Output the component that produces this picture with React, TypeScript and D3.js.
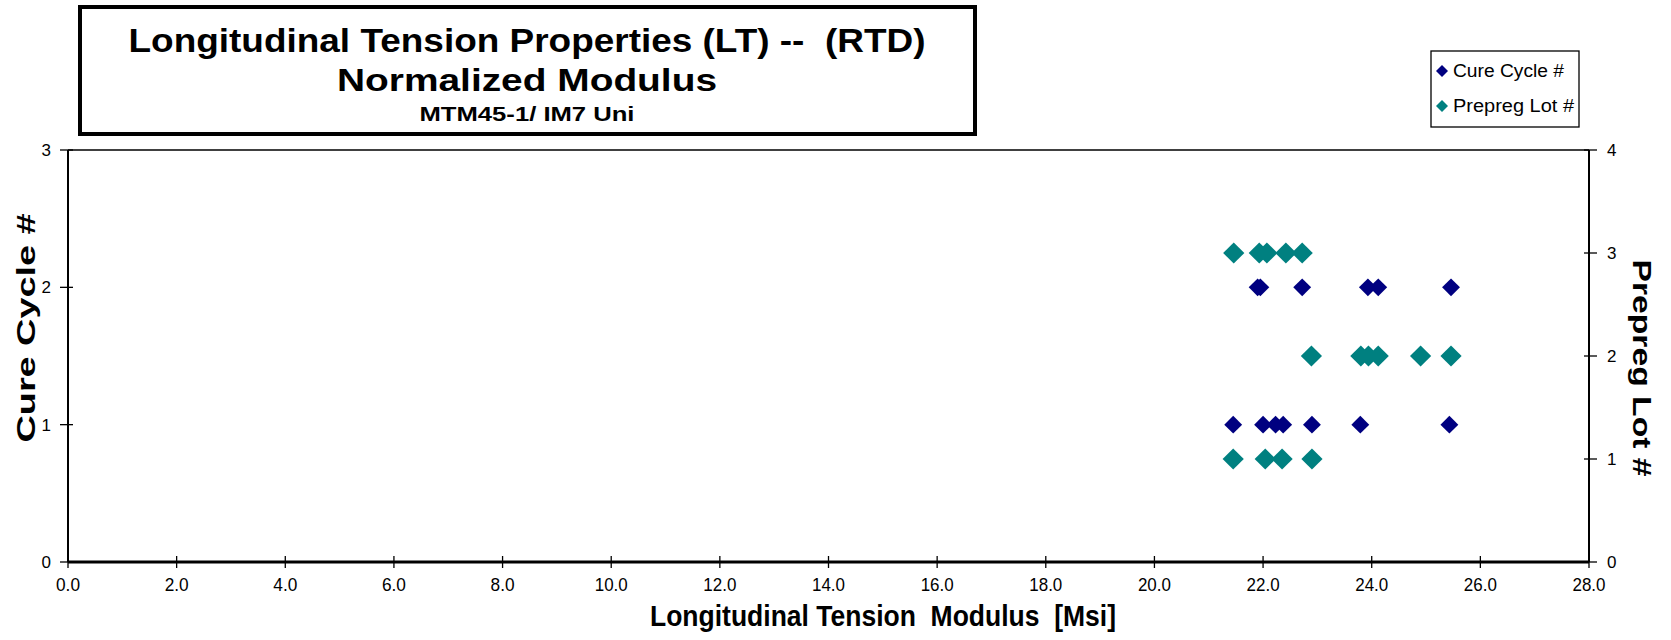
import { useEffect, useRef } from 'react';
import * as d3 from 'd3';

// Modulus values [Msi], grouped by row
const cureCycle1 = [21.45, 22.0, 22.23, 22.37, 22.9, 23.79, 25.43];
const cureCycle2 = [21.9, 21.95, 22.72, 23.93, 24.12, 25.46];
const prepregLot1 = [21.45, 22.04, 22.35, 22.9];
const prepregLot2 = [22.89, 23.8, 23.94, 24.12, 24.9, 25.46];
const prepregLot3 = [21.46, 21.93, 22.07, 22.42, 22.72];

const xTicks = [0, 2, 4, 6, 8, 10, 12, 14, 16, 18, 20, 22, 24, 26, 28];
const leftTicks = [0, 1, 2, 3];
const rightTicks = [0, 1, 2, 3, 4];

const titleLines = [
  'Longitudinal Tension Properties (LT) --  (RTD)',
  'Normalized Modulus',
  'MTM45-1/ IM7 Uni',
];
const xLabel = 'Longitudinal Tension  Modulus  [Msi]';
const leftLabel = 'Cure Cycle #';
const rightLabel = 'Prepreg Lot #';
const legendNames = ['Cure Cycle #', 'Prepreg Lot #'];

const NAVY = '#000080';
const TEAL = '#008080';
const NARROW = '"Liberation Sans Narrow", "Arial Narrow", "Liberation Sans", Arial, sans-serif';
const SANS = '"Liberation Sans", Arial, sans-serif';

export default function App() {
  const svgRef = useRef<SVGSVGElement | null>(null);

  useEffect(() => {
    if (!svgRef.current) return;
    const svg = d3.select(svgRef.current);
    svg.selectAll('*').remove();

    // plot area
    const left = 68, right = 1589, top = 150, bottom = 562;

    const x = d3.scaleLinear().domain([0, 28]).range([left, right]);
    const yL = d3.scaleLinear().domain([0, 3]).range([bottom, top]);
    const yR = d3.scaleLinear().domain([0, 4]).range([bottom, top]);

    // title box
    svg.append('rect')
      .attr('x', 80).attr('y', 7)
      .attr('width', 895).attr('height', 127)
      .attr('fill', 'white')
      .attr('stroke', 'black')
      .attr('stroke-width', 4);

    const titleSpecs = [
      { y: 52, size: 33, len: 797 },
      { y: 91, size: 32, len: 380 },
      { y: 121, size: 21, len: 215 },
    ];
    titleLines.forEach((t, i) => {
      svg.append('text')
        .attr('x', 527)
        .attr('y', titleSpecs[i].y)
        .attr('text-anchor', 'middle')
        .attr('font-family', NARROW)
        .attr('font-weight', 'bold')
        .attr('font-size', titleSpecs[i].size)
        .attr('textLength', titleSpecs[i].len)
        .attr('lengthAdjust', 'spacingAndGlyphs')
        .style('white-space', 'pre')
        .text(t);
    });

    // frame
    svg.append('line')
      .attr('x1', left).attr('x2', right)
      .attr('y1', top).attr('y2', top)
      .attr('stroke', 'black').attr('stroke-width', 1.5);
    svg.append('line')
      .attr('x1', left).attr('x2', left)
      .attr('y1', top).attr('y2', bottom)
      .attr('stroke', 'black').attr('stroke-width', 2);
    svg.append('line')
      .attr('x1', right).attr('x2', right)
      .attr('y1', top).attr('y2', bottom)
      .attr('stroke', 'black').attr('stroke-width', 2);
    svg.append('line')
      .attr('x1', left).attr('x2', right)
      .attr('y1', bottom).attr('y2', bottom)
      .attr('stroke', 'black').attr('stroke-width', 3);

    // x axis ticks and labels
    const xg = svg.append('g');
    xg.selectAll('line')
      .data(xTicks)
      .enter()
      .append('line')
      .attr('x1', d => x(d)).attr('x2', d => x(d))
      .attr('y1', bottom - 6).attr('y2', bottom + 6)
      .attr('stroke', 'black').attr('stroke-width', 1.3);
    xg.selectAll('text')
      .data(xTicks)
      .enter()
      .append('text')
      .attr('x', d => x(d))
      .attr('y', 591)
      .attr('text-anchor', 'middle')
      .attr('font-family', NARROW)
      .attr('font-size', 19)
      .attr('textLength', d => (d >= 10 ? 33 : 24))
      .attr('lengthAdjust', 'spacingAndGlyphs')
      .text(d => d.toFixed(1));

    // left axis
    const lg = svg.append('g');
    lg.selectAll('line')
      .data(leftTicks)
      .enter()
      .append('line')
      .attr('x1', left - 8).attr('x2', left + 5)
      .attr('y1', d => yL(d)).attr('y2', d => yL(d))
      .attr('stroke', 'black').attr('stroke-width', 1.3);
    lg.selectAll('text')
      .data(leftTicks)
      .enter()
      .append('text')
      .attr('x', 51)
      .attr('y', d => yL(d))
      .attr('dy', '0.36em')
      .attr('text-anchor', 'end')
      .attr('font-family', SANS)
      .attr('font-size', 17)
      .text(d => String(d));

    // right axis
    const rg = svg.append('g');
    rg.selectAll('line')
      .data(rightTicks)
      .enter()
      .append('line')
      .attr('x1', right - 5).attr('x2', right + 8)
      .attr('y1', d => yR(d)).attr('y2', d => yR(d))
      .attr('stroke', 'black').attr('stroke-width', 1.3);
    rg.selectAll('text')
      .data(rightTicks)
      .enter()
      .append('text')
      .attr('x', 1607)
      .attr('y', d => yR(d))
      .attr('dy', '0.36em')
      .attr('text-anchor', 'start')
      .attr('font-family', SANS)
      .attr('font-size', 17)
      .text(d => String(d));

    // axis titles
    svg.append('text')
      .attr('x', 883)
      .attr('y', 626)
      .attr('text-anchor', 'middle')
      .attr('font-family', NARROW)
      .attr('font-weight', 'bold')
      .attr('font-size', 29)
      .attr('textLength', 466)
      .attr('lengthAdjust', 'spacingAndGlyphs')
      .style('white-space', 'pre')
      .text(xLabel);

    svg.append('text')
      .attr('transform', 'translate(35,328) rotate(-90)')
      .attr('text-anchor', 'middle')
      .attr('font-family', SANS)
      .attr('font-weight', 'bold')
      .attr('font-size', 25)
      .attr('textLength', 229)
      .attr('lengthAdjust', 'spacingAndGlyphs')
      .text(leftLabel);

    svg.append('text')
      .attr('transform', 'translate(1633,368) rotate(90)')
      .attr('text-anchor', 'middle')
      .attr('font-family', SANS)
      .attr('font-weight', 'bold')
      .attr('font-size', 25)
      .attr('textLength', 217)
      .attr('lengthAdjust', 'spacingAndGlyphs')
      .text(rightLabel);

    // markers: squares rotated 45 degrees
    const navySym = d3.symbol(d3.symbolSquare, 160)();
    const tealSym = d3.symbol(d3.symbolSquare, 225)();

    const curePts = [
      ...cureCycle1.map(v => ({ x: v, y: 1 })),
      ...cureCycle2.map(v => ({ x: v, y: 2 })),
    ];
    const lotPts = [
      ...prepregLot1.map(v => ({ x: v, y: 1 })),
      ...prepregLot2.map(v => ({ x: v, y: 2 })),
      ...prepregLot3.map(v => ({ x: v, y: 3 })),
    ];

    svg.append('g').selectAll('path')
      .data(curePts)
      .enter()
      .append('path')
      .attr('d', navySym)
      .attr('transform', d => `translate(${x(d.x)},${yL(d.y)}) rotate(45)`)
      .attr('fill', NAVY);

    svg.append('g').selectAll('path')
      .data(lotPts)
      .enter()
      .append('path')
      .attr('d', tealSym)
      .attr('transform', d => `translate(${x(d.x)},${yR(d.y)}) rotate(45)`)
      .attr('fill', TEAL);

    // legend
    const leg = svg.append('g');
    leg.append('rect')
      .attr('x', 1431).attr('y', 51)
      .attr('width', 148).attr('height', 76)
      .attr('fill', 'white')
      .attr('stroke', 'black')
      .attr('stroke-width', 1.3);
    const legSym = d3.symbol(d3.symbolSquare, 72)();
    const legColors = [NAVY, TEAL];
    legendNames.forEach((name, i) => {
      const cy = 71 + i * 35;
      leg.append('path')
        .attr('d', legSym)
        .attr('transform', `translate(1442,${cy}) rotate(45)`)
        .attr('fill', legColors[i]);
      leg.append('text')
        .attr('x', 1453)
        .attr('y', cy)
        .attr('dy', '0.36em')
        .attr('font-family', SANS)
        .attr('font-size', 18)
        .attr('textLength', i === 0 ? 111 : 121)
        .attr('lengthAdjust', 'spacingAndGlyphs')
        .text(name);
    });
  }, []);

  return (
    <svg
      ref={svgRef}
      width={1671}
      height={640}
      style={{ position: 'absolute', left: 0, top: 0, background: 'white' }}
    />
  );
}
